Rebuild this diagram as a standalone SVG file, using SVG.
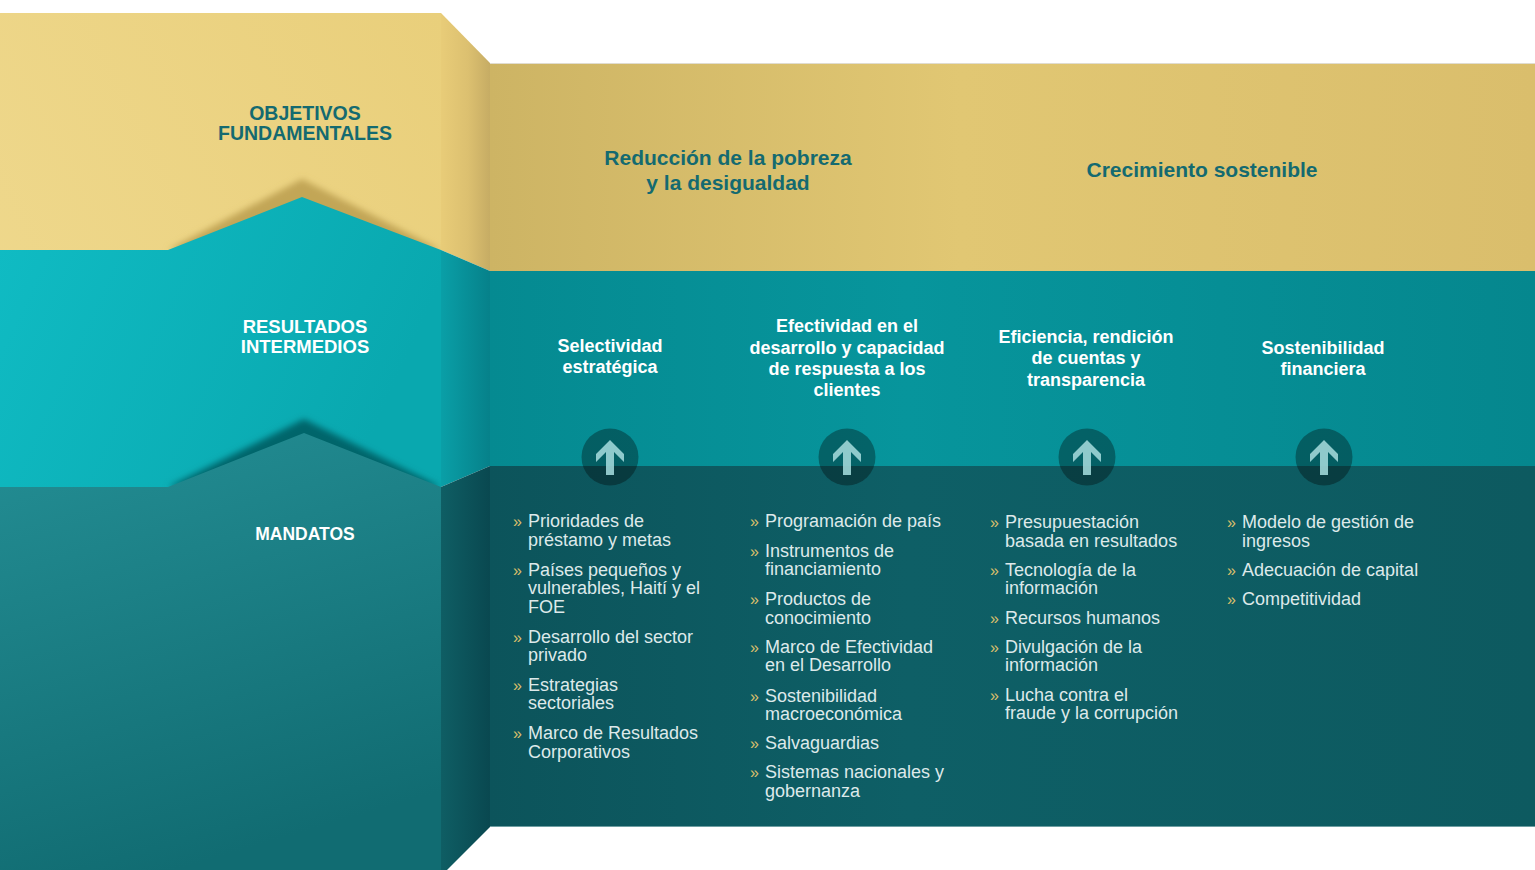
<svg xmlns="http://www.w3.org/2000/svg" width="1535" height="870" viewBox="0 0 1535 870">
<defs>
<linearGradient id="lGold" x1="1" y1="0" x2="0" y2="1"><stop offset="0" stop-color="#e9cf7b"/><stop offset="1" stop-color="#f1dc94"/></linearGradient>
<linearGradient id="lTeal" x1="0" y1="0" x2="1" y2="0.3"><stop offset="0" stop-color="#10bcc4"/><stop offset="1" stop-color="#09a8af"/></linearGradient>
<linearGradient id="lMand" x1="0.1" y1="0" x2="0.4" y2="1"><stop offset="0" stop-color="#238d93"/><stop offset="1" stop-color="#116c72"/></linearGradient>
<linearGradient id="fGold" x1="0" y1="0" x2="1" y2="0"><stop offset="0" stop-color="#e8cc78"/><stop offset="0.55" stop-color="#dcc070"/><stop offset="1" stop-color="#c6ac64"/></linearGradient>
<linearGradient id="fTeal" x1="0" y1="0" x2="1" y2="0"><stop offset="0" stop-color="#0a9fa7"/><stop offset="1" stop-color="#06818a"/></linearGradient>
<linearGradient id="fDark" x1="0" y1="0" x2="1" y2="0"><stop offset="0" stop-color="#0f5e64"/><stop offset="1" stop-color="#094850"/></linearGradient>
<linearGradient id="mGold" x1="0" y1="0" x2="1" y2="0"><stop offset="0" stop-color="#cdb464"/><stop offset="0.45" stop-color="#e1c773"/><stop offset="1" stop-color="#dabe6c"/></linearGradient>
<linearGradient id="mTeal" x1="0" y1="0" x2="1" y2="0"><stop offset="0" stop-color="#058a91"/><stop offset="0.4" stop-color="#07959c"/><stop offset="1" stop-color="#05878e"/></linearGradient>
<linearGradient id="mDark" x1="0" y1="0" x2="1" y2="0"><stop offset="0" stop-color="#0c545b"/><stop offset="0.4" stop-color="#0e5f66"/><stop offset="1" stop-color="#0d5a60"/></linearGradient>
<filter id="blur" x="-20%" y="-40%" width="140%" height="180%"><feGaussianBlur stdDeviation="3"/></filter>
<path id="arrow" d="M0,-17 L14,-3 L14,5 L4,-5 L4,18 L-4,18 L-4,-5 L-14,5 L-14,-3 Z"/>
</defs>
<style>
.lbl{font-family:"Liberation Sans",Arial,sans-serif;font-weight:bold;text-anchor:middle}
.dk{fill:#146a70}
.wh{fill:#ffffff}
.hd{font-family:"Liberation Sans",Arial,sans-serif;font-weight:bold;font-size:21px;fill:#146a70;text-anchor:middle}
.mh{font-family:"Liberation Sans",Arial,sans-serif;font-weight:bold;font-size:18px;fill:#ffffff;text-anchor:middle}
.it{font-family:"Liberation Sans",Arial,sans-serif;font-size:18px;fill:#dde9ea}
.bu{font-family:"Liberation Sans",Arial,sans-serif;font-size:16px;fill:#d9bf6b}
.circ{fill:#000000;fill-opacity:0.33}
.arr{fill:#9fd6d7;fill-opacity:0.9}
</style>
<rect width="1535" height="870" fill="#ffffff"/>
<g id="background">
<rect x="0" y="13" width="441" height="857" fill="url(#lGold)"/>
<polygon points="168,250 302,179 441,250" fill="#c2a656" filter="url(#blur)"/>
<polygon points="0,250 168,250 302,197 441,250 441,487 0,487" fill="url(#lTeal)"/>
<polygon points="168,487 304,419 441,487" fill="#06656b" filter="url(#blur)"/>
<polygon points="0,487 168,487 304,433 441,487 441,870 0,870" fill="url(#lMand)"/>
<polygon points="441,13 490,63 490,271 441,250" fill="url(#fGold)"/>
<polygon points="441,250 490,271 490,466 441,487" fill="url(#fTeal)"/>
<polygon points="441,487 490,466 490,827 447,870 441,870" fill="url(#fDark)"/>
<rect x="490" y="63" width="1045" height="208" fill="url(#mGold)"/>
<rect x="490" y="271" width="1045" height="195" fill="url(#mTeal)"/>
<rect x="490" y="466" width="1045" height="361" fill="url(#mDark)"/>
<line x1="490" y1="63.5" x2="1535" y2="63.5" stroke="#e0dcd0" stroke-width="1"/>
<line x1="490" y1="826.5" x2="1535" y2="826.5" stroke="#6e9ea2" stroke-width="1"/>
</g>
<g id="label-objetivos"><text class="lbl dk" font-size="19.5" x="305" y="120">OBJETIVOS</text><text class="lbl dk" font-size="19.5" x="305" y="140">FUNDAMENTALES</text></g>
<g id="label-resultados"><text class="lbl wh" font-size="18.5" x="305" y="333">RESULTADOS</text><text class="lbl wh" font-size="18.5" x="305" y="353">INTERMEDIOS</text></g>
<g id="label-mandatos"><text class="lbl wh" font-size="17.5" x="305" y="540">MANDATOS</text></g>
<g id="obj-pobreza"><text class="hd" x="728" y="165">Reducción de la pobreza</text><text class="hd" x="728" y="190">y la desigualdad</text></g>
<g id="obj-crecimiento"><text class="hd" x="1202" y="177">Crecimiento sostenible</text></g>
<g id="res-selectividad"><text class="mh" x="610" y="352">Selectividad</text><text class="mh" x="610" y="373">estratégica</text></g>
<g id="res-efectividad"><text class="mh" x="847" y="332">Efectividad en el</text><text class="mh" x="847" y="354">desarrollo y capacidad</text><text class="mh" x="847" y="375">de respuesta a los</text><text class="mh" x="847" y="396">clientes</text></g>
<g id="res-eficiencia"><text class="mh" x="1086" y="343">Eficiencia, rendición</text><text class="mh" x="1086" y="364">de cuentas y</text><text class="mh" x="1086" y="386">transparencia</text></g>
<g id="res-sostenibilidad"><text class="mh" x="1323" y="354">Sostenibilidad</text><text class="mh" x="1323" y="375">financiera</text></g>
<g id="connectors">
<g transform="translate(610,457)"><circle r="28.5" class="circ"/><use href="#arrow" class="arr"/></g>
<g transform="translate(847,457)"><circle r="28.5" class="circ"/><use href="#arrow" class="arr"/></g>
<g transform="translate(1087,457)"><circle r="28.5" class="circ"/><use href="#arrow" class="arr"/></g>
<g transform="translate(1324,457)"><circle r="28.5" class="circ"/><use href="#arrow" class="arr"/></g>
</g>
<g id="mand-col1">
<text class="bu" x="513" y="527">»</text><text class="it" x="528" y="527">Prioridades de</text><text class="it" x="528" y="546">préstamo y metas</text>
<text class="bu" x="513" y="575.5">»</text><text class="it" x="528" y="575.5">Países pequeños y</text><text class="it" x="528" y="594">vulnerables, Haití y el</text><text class="it" x="528" y="612.5">FOE</text>
<text class="bu" x="513" y="642.5">»</text><text class="it" x="528" y="642.5">Desarrollo del sector</text><text class="it" x="528" y="661">privado</text>
<text class="bu" x="513" y="690.5">»</text><text class="it" x="528" y="690.5">Estrategias</text><text class="it" x="528" y="709">sectoriales</text>
<text class="bu" x="513" y="739">»</text><text class="it" x="528" y="739">Marco de Resultados</text><text class="it" x="528" y="757.5">Corporativos</text>
</g>
<g id="mand-col2">
<text class="bu" x="750" y="527">»</text><text class="it" x="765" y="527">Programación de país</text>
<text class="bu" x="750" y="556.5">»</text><text class="it" x="765" y="556.5">Instrumentos de</text><text class="it" x="765" y="575">financiamiento</text>
<text class="bu" x="750" y="605">»</text><text class="it" x="765" y="605">Productos de</text><text class="it" x="765" y="623.5">conocimiento</text>
<text class="bu" x="750" y="653">»</text><text class="it" x="765" y="653">Marco de Efectividad</text><text class="it" x="765" y="671">en el Desarrollo</text>
<text class="bu" x="750" y="701.5">»</text><text class="it" x="765" y="701.5">Sostenibilidad</text><text class="it" x="765" y="719.5">macroeconómica</text>
<text class="bu" x="750" y="749">»</text><text class="it" x="765" y="749">Salvaguardias</text>
<text class="bu" x="750" y="778">»</text><text class="it" x="765" y="778">Sistemas nacionales y</text><text class="it" x="765" y="796.5">gobernanza</text>
</g>
<g id="mand-col3">
<text class="bu" x="990" y="527.5">»</text><text class="it" x="1005" y="527.5">Presupuestación</text><text class="it" x="1005" y="546.5">basada en resultados</text>
<text class="bu" x="990" y="575.5">»</text><text class="it" x="1005" y="575.5">Tecnología de la</text><text class="it" x="1005" y="594">información</text>
<text class="bu" x="990" y="623.5">»</text><text class="it" x="1005" y="623.5">Recursos humanos</text>
<text class="bu" x="990" y="652.5">»</text><text class="it" x="1005" y="652.5">Divulgación de la</text><text class="it" x="1005" y="671">información</text>
<text class="bu" x="990" y="700.5">»</text><text class="it" x="1005" y="700.5">Lucha contra el</text><text class="it" x="1005" y="719">fraude y la corrupción</text>
</g>
<g id="mand-col4">
<text class="bu" x="1227" y="527.5">»</text><text class="it" x="1242" y="527.5">Modelo de gestión de</text><text class="it" x="1242" y="546.5">ingresos</text>
<text class="bu" x="1227" y="575.5">»</text><text class="it" x="1242" y="575.5">Adecuación de capital</text>
<text class="bu" x="1227" y="605">»</text><text class="it" x="1242" y="605">Competitividad</text>
</g>
</svg>
